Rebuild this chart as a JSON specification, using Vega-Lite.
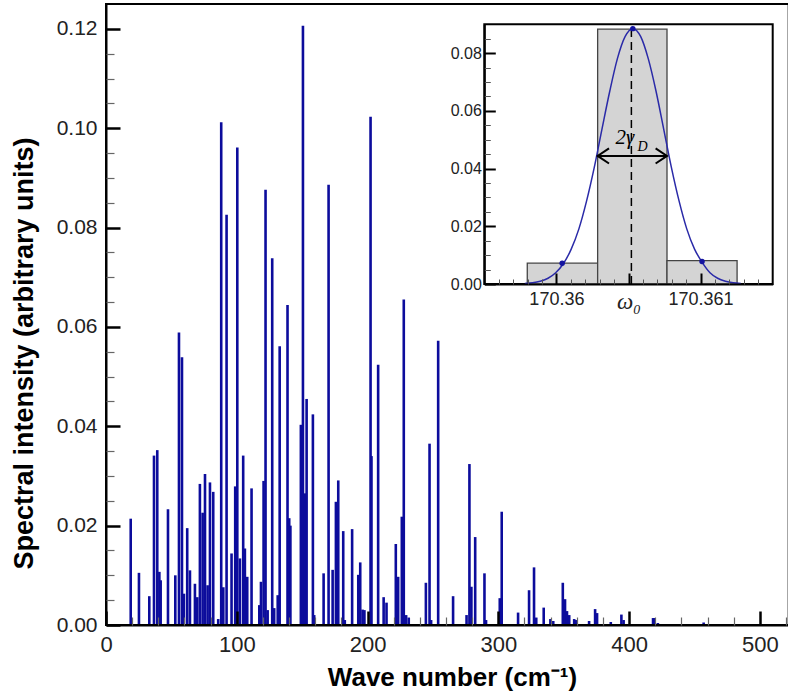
{
  "$schema": "https://vega.github.io/schema/vega-lite/v6.json",
  "width": 682,
  "height": 621,
  "autosize": {"type": "none"},
  "padding": {"left": 106, "top": 4, "right": 0, "bottom": 73},
  "background": "white",
  "config": {
    "view": {"stroke": null},
    "font": "Liberation Sans"
  },
  "datasets": {
    "spectrum": [
      {"w": 18.9, "v": 0.0214}, {"w": 25.2, "v": 0.0105}, {"w": 33.1, "v": 0.0058}, {"w": 36.7, "v": 0.0341},
      {"w": 39.2, "v": 0.0352}, {"w": 40.8, "v": 0.0107}, {"w": 41.8, "v": 0.009}, {"w": 47.4, "v": 0.0233},
      {"w": 53.0, "v": 0.01}, {"w": 55.8, "v": 0.0589}, {"w": 58.1, "v": 0.0539}, {"w": 59.6, "v": 0.0063},
      {"w": 62.1, "v": 0.0195}, {"w": 64.2, "v": 0.011}, {"w": 68.0, "v": 0.0083}, {"w": 69.8, "v": 0.0056},
      {"w": 71.8, "v": 0.0284}, {"w": 73.9, "v": 0.0226}, {"w": 75.7, "v": 0.0304}, {"w": 77.7, "v": 0.008},
      {"w": 79.5, "v": 0.0287}, {"w": 82.0, "v": 0.0268}, {"w": 85.8, "v": 0.0012}, {"w": 88.1, "v": 0.1012},
      {"w": 89.7, "v": 0.0076}, {"w": 92.2, "v": 0.0826}, {"w": 96.0, "v": 0.0144}, {"w": 98.8, "v": 0.0279},
      {"w": 100.4, "v": 0.0961}, {"w": 102.4, "v": 0.0134}, {"w": 104.9, "v": 0.0341}, {"w": 106.2, "v": 0.0154},
      {"w": 108.0, "v": 0.0097}, {"w": 111.3, "v": 0.0275}, {"w": 117.2, "v": 0.004}, {"w": 118.5, "v": 0.0087},
      {"w": 120.5, "v": 0.029}, {"w": 122.0, "v": 0.0876}, {"w": 123.6, "v": 0.003}, {"w": 127.1, "v": 0.0738},
      {"w": 128.6, "v": 0.0034}, {"w": 131.3, "v": 0.006}, {"w": 132.8, "v": 0.0561}, {"w": 138.8, "v": 0.0644},
      {"w": 140.1, "v": 0.0215}, {"w": 141.0, "v": 0.02}, {"w": 149.0, "v": 0.0403}, {"w": 150.6, "v": 0.1206},
      {"w": 152.0, "v": 0.0265}, {"w": 153.4, "v": 0.0455}, {"w": 158.2, "v": 0.0424}, {"w": 159.2, "v": 0.002},
      {"w": 166.4, "v": 0.0104}, {"w": 170.2, "v": 0.0886}, {"w": 173.3, "v": 0.0111}, {"w": 175.8, "v": 0.0248},
      {"w": 177.6, "v": 0.0291}, {"w": 181.4, "v": 0.0189}, {"w": 182.6, "v": 0.001}, {"w": 188.2, "v": 0.0193},
      {"w": 192.9, "v": 0.0101}, {"w": 194.4, "v": 0.0126}, {"w": 196.2, "v": 0.0031}, {"w": 197.6, "v": 0.003},
      {"w": 202.3, "v": 0.1023}, {"w": 203.0, "v": 0.034}, {"w": 208.1, "v": 0.0524}, {"w": 212.3, "v": 0.0056},
      {"w": 214.5, "v": 0.0045}, {"w": 221.6, "v": 0.0163}, {"w": 223.4, "v": 0.0097}, {"w": 226.2, "v": 0.0218},
      {"w": 227.7, "v": 0.0655}, {"w": 229.5, "v": 0.002}, {"w": 231.5, "v": 0.0015}, {"w": 244.6, "v": 0.0085},
      {"w": 247.4, "v": 0.0365}, {"w": 248.6, "v": 0.001}, {"w": 254.0, "v": 0.0572}, {"w": 265.4, "v": 0.0058},
      {"w": 275.7, "v": 0.002}, {"w": 277.9, "v": 0.0324}, {"w": 279.4, "v": 0.0077}, {"w": 282.3, "v": 0.0177},
      {"w": 289.4, "v": 0.0104}, {"w": 290.6, "v": 0.001}, {"w": 301.1, "v": 0.0054}, {"w": 302.6, "v": 0.0228},
      {"w": 315.1, "v": 0.0025}, {"w": 323.5, "v": 0.007}, {"w": 327.3, "v": 0.0116}, {"w": 329.0, "v": 0.0015},
      {"w": 334.7, "v": 0.0035}, {"w": 339.8, "v": 0.0012}, {"w": 342.0, "v": 0.0008}, {"w": 349.3, "v": 0.0085},
      {"w": 351.0, "v": 0.0052}, {"w": 352.5, "v": 0.0028}, {"w": 354.2, "v": 0.002}, {"w": 358.0, "v": 0.0012},
      {"w": 359.5, "v": 0.001}, {"w": 369.4, "v": 0.0008}, {"w": 374.0, "v": 0.0032}, {"w": 375.5, "v": 0.0024},
      {"w": 386.0, "v": 0.0006}, {"w": 394.1, "v": 0.0021}, {"w": 395.8, "v": 0.001}, {"w": 418.3, "v": 0.0014},
      {"w": 419.5, "v": 0.0014}, {"w": 422.0, "v": 0.0004}, {"w": 457.0, "v": 0.0005}
    ],
    "mainframe": [{"x": 0, "x2": 522, "y": 0, "y2": 0.125}],
    "frame": [{"x": 170.3595, "x2": 170.3615, "y": 0, "y2": 0.09}],
    "bins": [
      {"x": 170.359798, "x2": 170.360286, "y": 0, "y2": 0.0072},
      {"x": 170.360286, "x2": 170.360767, "y": 0, "y2": 0.0883},
      {"x": 170.360767, "x2": 170.361253, "y": 0, "y2": 0.0081}
    ],
    "curve": [
      {"x": 170.359781, "y": 0.0002}, {"x": 170.359835, "y": 0.00045}, {"x": 170.359888, "y": 0.00098},
      {"x": 170.359942, "y": 0.002}, {"x": 170.359995, "y": 0.0039}, {"x": 170.360049, "y": 0.0071},
      {"x": 170.360102, "y": 0.012}, {"x": 170.360156, "y": 0.0191}, {"x": 170.360209, "y": 0.0287},
      {"x": 170.360263, "y": 0.0405}, {"x": 170.360316, "y": 0.0537}, {"x": 170.36037, "y": 0.0668},
      {"x": 170.360423, "y": 0.0781}, {"x": 170.360477, "y": 0.0858}, {"x": 170.36053, "y": 0.0885},
      {"x": 170.360584, "y": 0.0858}, {"x": 170.360637, "y": 0.0781}, {"x": 170.360691, "y": 0.0668},
      {"x": 170.360744, "y": 0.0537}, {"x": 170.360797, "y": 0.0405}, {"x": 170.360851, "y": 0.0287},
      {"x": 170.360904, "y": 0.0191}, {"x": 170.360958, "y": 0.0121}, {"x": 170.361011, "y": 0.0075},
      {"x": 170.361065, "y": 0.0039}, {"x": 170.361118, "y": 0.002}, {"x": 170.361172, "y": 0.00098},
      {"x": 170.361225, "y": 0.00045}, {"x": 170.361279, "y": 0.0002}
    ],
    "dots": [
      {"x": 170.36004, "y": 0.0072}, {"x": 170.36053, "y": 0.0885}, {"x": 170.36101, "y": 0.0078}
    ],
    "center": [{"x": 170.36052, "y": 0, "y2": 0.0885}],
    "arrow": [{"x": 170.360286, "x2": 170.360767, "y": 0.0444}],
    "heads": [
      {"x": 170.360286, "y": 0.0444, "side": "left"},
      {"x": 170.360767, "y": 0.0444, "side": "right"}
    ],
    "notes": [
      {"x": 170.360475, "y": 0.0505, "t": "2γ", "s": 21},
      {"x": 170.360597, "y": 0.0476, "t": "D", "s": 14}
    ]
  },
  "layer": [
    {
      "data": {"name": "spectrum"},
      "mark": {"type": "rule", "color": "#0c0c9c", "strokeWidth": 2.6},
      "encoding": {
        "x": {
          "field": "w", "type": "quantitative",
          "scale": {"domain": [0, 521.5], "nice": false, "zero": false},
          "axis": {
            "orient": "bottom", "zindex": 1,
            "values": [0, 100, 200, 300, 400, 500],
            "format": "d",
            "tickSize": -14, "tickWidth": 2.5, "tickColor": "black",
            "domainColor": "black", "domainWidth": 2,
            "labelFontSize": 22, "labelColor": "#222", "labelPadding": 23,
            "labelFlush": false, "labelOverlap": false, "grid": false,
            "title": "Wave number (cm⁻¹)",
            "titleFontSize": 26, "titleFontWeight": "bold", "titleColor": "black",
            "titleBaseline": "alphabetic", "titleY": 60, "titleX": 346
          }
        },
        "y": {
          "field": "v", "type": "quantitative",
          "scale": {"domain": [0, 0.125], "nice": false, "zero": true},
          "axis": {
            "orient": "left", "zindex": 1,
            "values": [0, 0.02, 0.04, 0.06, 0.08, 0.1, 0.12],
            "format": ".2f",
            "tickSize": -14, "tickWidth": 2.5, "tickColor": "black",
            "domainColor": "black", "domainWidth": 2,
            "labelFontSize": 21, "labelColor": "#222", "labelPadding": 23,
            "labelFlush": false, "labelOverlap": false, "grid": false,
            "title": "Spectral intensity (arbitrary units)",
            "titleFontSize": 27, "titleFontWeight": "bold", "titleColor": "black",
            "titleBaseline": "alphabetic", "titleX": -74, "titleY": 349
          }
        },
        "y2": {"datum": 0}
      }
    },
    {
      "data": {"name": "mainframe"},
      "mark": {"type": "rect", "filled": false, "stroke": "black", "strokeWidth": 2},
      "encoding": {
        "x": {
          "field": "x", "type": "quantitative",
          "scale": {"domain": [0, 521.5], "nice": false, "zero": false},
          "axis": {
            "orient": "bottom", "zindex": 1,
            "values": [20,40,60,80,120,140,160,180,220,240,260,280,320,340,360,380,420,440,460,480,520],
            "labels": false, "domain": false, "grid": false, "title": null,
            "tickSize": -8, "tickWidth": 1.2, "tickColor": "#666"
          }
        },
        "x2": {"field": "x2"},
        "y": {
          "field": "y", "type": "quantitative",
          "scale": {"domain": [0, 0.125], "nice": false, "zero": false},
          "axis": {
            "orient": "left", "zindex": 1,
            "values": [0.005,0.01,0.015,0.025,0.03,0.035,0.045,0.05,0.055,0.065,0.07,0.075,0.085,0.09,0.095,0.105,0.11,0.115],
            "labels": false, "domain": false, "grid": false, "title": null,
            "tickSize": -8, "tickWidth": 1.2, "tickColor": "#666"
          }
        },
        "y2": {"field": "y2"}
      }
    },
    {
      "data": {"name": "frame"},
      "mark": {"type": "rect", "fill": "white", "stroke": "black", "strokeWidth": 2},
      "encoding": {
        "x": {
          "field": "x", "type": "quantitative",
          "scale": {"domain": [170.3595, 170.3615], "range": [378.3, 666.7], "nice": false, "zero": false},
          "axis": {
            "orient": "bottom", "offset": -341, "zindex": 1,
            "values": [170.36, 170.3605, 170.361],
            "labelExpr": "datum.value > 170.36025 && datum.value < 170.36075 ? 'ω₀' : format(datum.value, '.3~f')",
            "labelFont": {"condition": {"test": "datum.value > 170.36025 && datum.value < 170.36075", "value": "Liberation Serif"}, "value": "Liberation Sans"},
            "labelFontStyle": {"condition": {"test": "datum.value > 170.36025 && datum.value < 170.36075", "value": "italic"}, "value": "normal"},
            "labelFontSize": {"condition": {"test": "datum.value > 170.36025 && datum.value < 170.36075", "value": 23}, "value": 18},
            "tickSize": -11, "tickWidth": 2, "tickColor": "black",
            "domainColor": "black", "domainWidth": 2,
            "labelColor": "#222", "labelPadding": 17,
            "labelFlush": false, "labelOverlap": false, "grid": false, "title": null
          }
        },
        "x2": {"field": "x2"},
        "y": {
          "field": "y", "type": "quantitative",
          "scale": {"domain": [0, 0.09], "range": [280, 20.3], "nice": false, "zero": false},
          "axis": {
            "orient": "left", "offset": -378.3, "zindex": 1,
            "values": [0, 0.02, 0.04, 0.06, 0.08],
            "format": ".2f",
            "tickSize": -11, "tickWidth": 2, "tickColor": "black",
            "domainColor": "black", "domainWidth": 2,
            "labelFontSize": 16, "labelColor": "#222", "labelPadding": 14,
            "labelFlush": false, "labelOverlap": false, "grid": false, "title": null
          }
        },
        "y2": {"field": "y2"}
      }
    },
    {
      "data": {"name": "bins"},
      "mark": {"type": "rect", "fill": "#d4d4d4", "stroke": "#444", "strokeWidth": 1.3},
      "encoding": {
        "x": {
          "field": "x", "type": "quantitative",
          "scale": {"domain": [170.3595, 170.3615], "range": [378.3, 666.7], "nice": false, "zero": false},
          "axis": {
            "orient": "bottom", "offset": -341, "zindex": 1,
            "values": [170.3596,170.3597,170.3598,170.3599,170.3601,170.3602,170.3603,170.3604,170.3606,170.3607,170.3608,170.3609,170.3611,170.3612,170.3613,170.3614],
            "labels": false, "domain": false, "grid": false, "title": null,
            "tickSize": -5, "tickWidth": 1, "tickColor": "#555"
          }
        },
        "x2": {"field": "x2"},
        "y": {
          "field": "y", "type": "quantitative",
          "scale": {"domain": [0, 0.09], "range": [280, 20.3], "nice": false, "zero": false},
          "axis": {
            "orient": "left", "offset": -378.3, "zindex": 1,
            "values": [0.005,0.01,0.015,0.025,0.03,0.035,0.045,0.05,0.055,0.065,0.07,0.075,0.085],
            "labels": false, "domain": false, "grid": false, "title": null,
            "tickSize": -6, "tickWidth": 1, "tickColor": "#555"
          }
        },
        "y2": {"field": "y2"}
      }
    },
    {
      "data": {"name": "center"},
      "mark": {"type": "rule", "color": "black", "strokeWidth": 1.5, "strokeDash": [8, 5]},
      "encoding": {
        "x": {"field": "x", "type": "quantitative", "axis": null,
          "scale": {"domain": [170.3595, 170.3615], "range": [378.3, 666.7], "nice": false, "zero": false}},
        "y": {"field": "y", "type": "quantitative", "axis": null,
          "scale": {"domain": [0, 0.09], "range": [280, 20.3], "nice": false, "zero": false}},
        "y2": {"field": "y2"}
      }
    },
    {
      "data": {"name": "curve"},
      "mark": {"type": "line", "color": "#2a2aa8", "strokeWidth": 1.5, "interpolate": "monotone"},
      "encoding": {
        "x": {"field": "x", "type": "quantitative", "axis": null,
          "scale": {"domain": [170.3595, 170.3615], "range": [378.3, 666.7], "nice": false, "zero": false}},
        "y": {"field": "y", "type": "quantitative", "axis": null,
          "scale": {"domain": [0, 0.09], "range": [280, 20.3], "nice": false, "zero": false}}
      }
    },
    {
      "data": {"name": "arrow"},
      "mark": {"type": "rule", "color": "black", "strokeWidth": 2},
      "encoding": {
        "x": {"field": "x", "type": "quantitative", "axis": null,
          "scale": {"domain": [170.3595, 170.3615], "range": [378.3, 666.7], "nice": false, "zero": false}},
        "x2": {"field": "x2"},
        "y": {"field": "y", "type": "quantitative", "axis": null,
          "scale": {"domain": [0, 0.09], "range": [280, 20.3], "nice": false, "zero": false}}
      }
    },
    {
      "data": {"name": "heads"},
      "transform": [{"filter": "datum.side === 'left'"}],
      "mark": {"type": "point", "shape": "M1.5,-1L0,0L1.5,1", "size": 230, "filled": false, "stroke": "black", "strokeWidth": 2, "opacity": 1},
      "encoding": {
        "x": {"field": "x", "type": "quantitative", "axis": null,
          "scale": {"domain": [170.3595, 170.3615], "range": [378.3, 666.7], "nice": false, "zero": false}},
        "y": {"field": "y", "type": "quantitative", "axis": null,
          "scale": {"domain": [0, 0.09], "range": [280, 20.3], "nice": false, "zero": false}}
      }
    },
    {
      "data": {"name": "heads"},
      "transform": [{"filter": "datum.side === 'right'"}],
      "mark": {"type": "point", "shape": "M-1.5,-1L0,0L-1.5,1", "size": 230, "filled": false, "stroke": "black", "strokeWidth": 2, "opacity": 1},
      "encoding": {
        "x": {"field": "x", "type": "quantitative", "axis": null,
          "scale": {"domain": [170.3595, 170.3615], "range": [378.3, 666.7], "nice": false, "zero": false}},
        "y": {"field": "y", "type": "quantitative", "axis": null,
          "scale": {"domain": [0, 0.09], "range": [280, 20.3], "nice": false, "zero": false}}
      }
    },
    {
      "data": {"name": "dots"},
      "mark": {"type": "point", "shape": "circle", "filled": true, "color": "#1414a0", "size": 30, "opacity": 1},
      "encoding": {
        "x": {"field": "x", "type": "quantitative", "axis": null,
          "scale": {"domain": [170.3595, 170.3615], "range": [378.3, 666.7], "nice": false, "zero": false}},
        "y": {"field": "y", "type": "quantitative", "axis": null,
          "scale": {"domain": [0, 0.09], "range": [280, 20.3], "nice": false, "zero": false}}
      }
    },
    {
      "data": {"name": "notes"},
      "mark": {"type": "text", "font": "Liberation Serif", "fontStyle": "italic", "color": "black", "align": "center", "baseline": "middle"},
      "encoding": {
        "x": {"field": "x", "type": "quantitative", "axis": null,
          "scale": {"domain": [170.3595, 170.3615], "range": [378.3, 666.7], "nice": false, "zero": false}},
        "y": {"field": "y", "type": "quantitative", "axis": null,
          "scale": {"domain": [0, 0.09], "range": [280, 20.3], "nice": false, "zero": false}},
        "text": {"field": "t"},
        "size": {"field": "s", "type": "quantitative", "scale": null, "legend": null}
      }
    }
  ],
  "resolve": {
    "scale": {"x": "independent", "y": "independent"},
    "axis": {"x": "independent", "y": "independent"}
  }
}
